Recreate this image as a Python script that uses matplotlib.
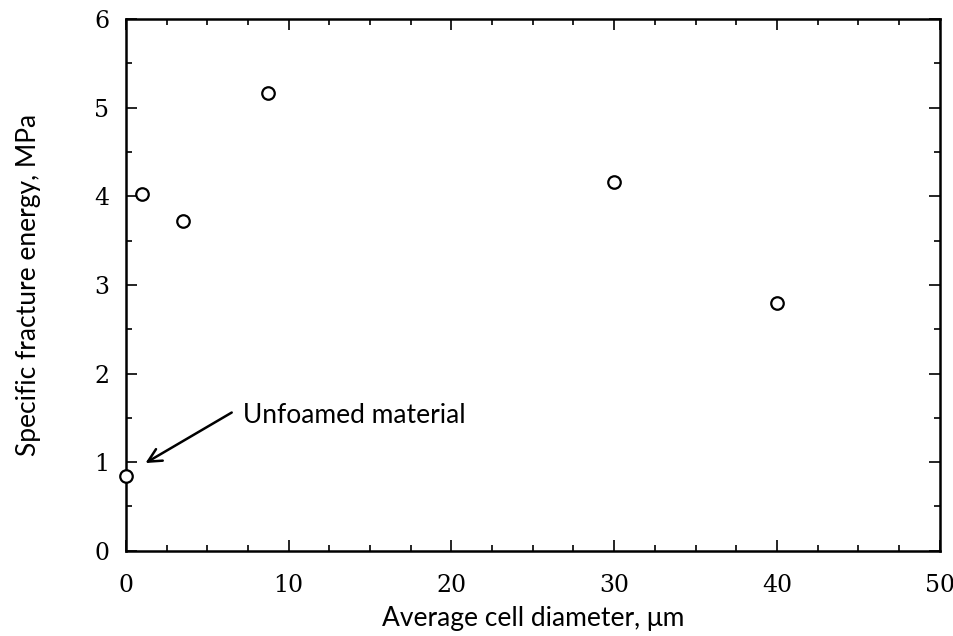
import numpy as np
import matplotlib.pyplot as plt
from matplotlib.ticker import MultipleLocator

# cell diameter (um) vs specific fracture energy (MPa)
diameter = np.array([0.0, 1.0, 3.5, 8.7, 30.0, 40.0])
energy = np.array([0.84, 4.03, 3.72, 5.17, 4.16, 2.80])

fig = plt.figure(figsize=(9.54, 6.36), dpi=100)
ax = fig.add_axes([0.132, 0.134, 0.853, 0.836])

ax.plot(diameter, energy, 'o', mfc='white', mec='black', mew=1.6, ms=9, clip_on=False, zorder=5)

ax.set_xlim(0, 50)
ax.set_ylim(0, 6)
ax.xaxis.set_major_locator(MultipleLocator(10))
ax.xaxis.set_minor_locator(MultipleLocator(2.5))
ax.yaxis.set_major_locator(MultipleLocator(1))
ax.yaxis.set_minor_locator(MultipleLocator(0.5))
ax.tick_params(which='both', direction='in', top=True, right=True, width=1.2)
ax.tick_params(which='major', length=8, labelsize=17)
ax.tick_params(axis='x', pad=17)
ax.tick_params(axis='y', pad=12)
ax.tick_params(which='minor', length=4)
for lab in ax.get_xticklabels() + ax.get_yticklabels():
    lab.set_family('DejaVu Serif')
for s in ax.spines.values():
    s.set_linewidth(1.8)

sans = 'Lato'
ax.set_xlabel('Average cell diameter, \u03bcm', fontsize=19, family=sans, labelpad=6)
ax.set_ylabel('Specific fracture energy, MPa', fontsize=19, family=sans, labelpad=38)

ax.annotate('', xy=(1.2, 0.99), xytext=(6.5, 1.56),
            arrowprops=dict(arrowstyle='->', lw=1.8, color='black', mutation_scale=24,
                            shrinkA=0, shrinkB=0))
ax.text(7.2, 1.53, 'Unfoamed material', fontsize=19, family=sans, va='center', ha='left')

fig.savefig('out.png', dpi=100)
